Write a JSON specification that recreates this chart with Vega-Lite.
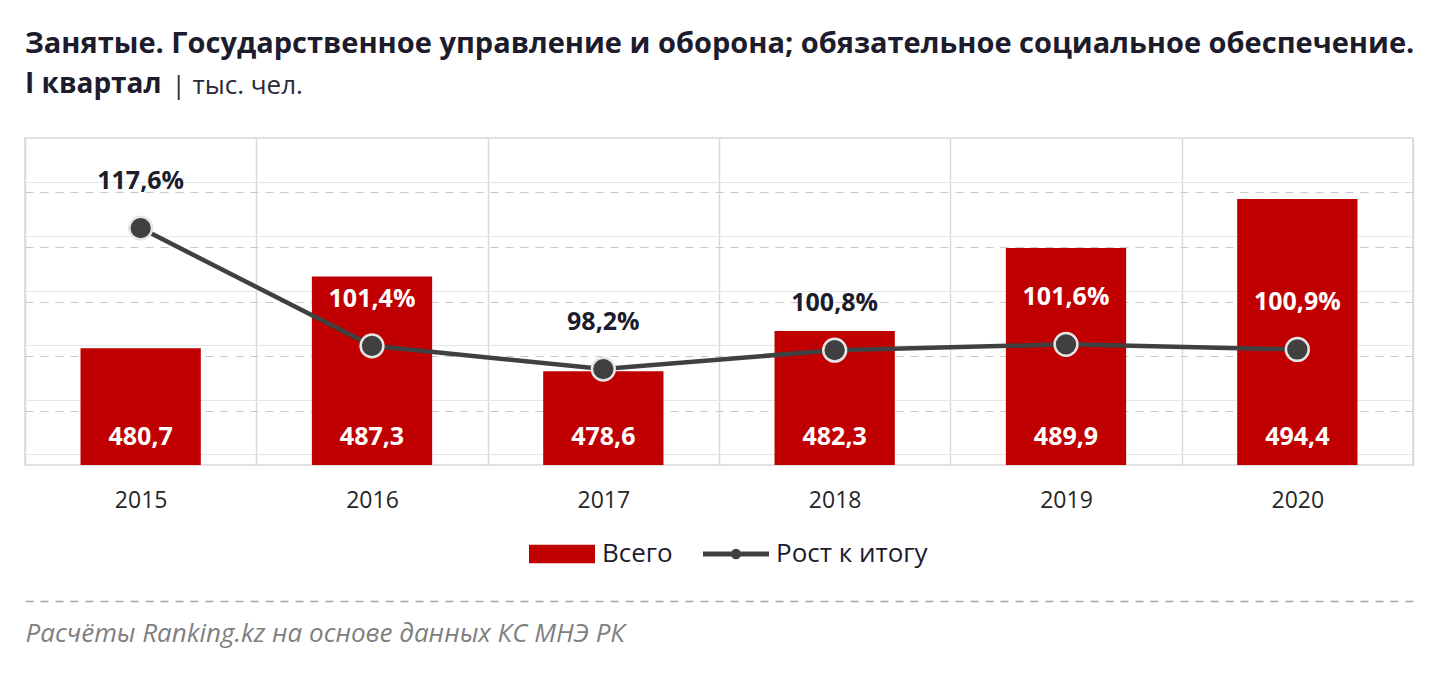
{
  "$schema": "https://vega.github.io/schema/vega-lite/v6.json",
  "width": 1388,
  "height": 327,
  "autosize": {"type": "none"},
  "padding": {"left": 25, "top": 138, "right": 25, "bottom": 209},
  "background": "white",
  "title": {
    "text": "Занятые. Государственное управление и оборона; обязательное социальное обеспечение.",
    "subtitle": "I квартал",
    "anchor": "start",
    "frame": "group",
    "font": "Open Sans",
    "fontSize": 29,
    "fontWeight": "bold",
    "color": "#1c1c2c",
    "subtitleFont": "Open Sans",
    "subtitleFontSize": 28,
    "subtitleFontWeight": "bold",
    "subtitleColor": "#1c1c2c",
    "subtitlePadding": 12,
    "offset": -27
  },
  "config": {
    "locale": {"number": {"decimal": ",", "thousands": "\u00a0", "grouping": [3], "currency": ["", ""]}},
    "view": {"stroke": "#d9d9d9", "strokeWidth": 1.5},
    "font": "Open Sans"
  },
  "data": {
    "values": [
      {"year": "2015", "total": 480.7, "growth": 117.6},
      {"year": "2016", "total": 487.3, "growth": 101.4},
      {"year": "2017", "total": 478.6, "growth": 98.2},
      {"year": "2018", "total": 482.3, "growth": 100.8},
      {"year": "2019", "total": 489.9, "growth": 101.6},
      {"year": "2020", "total": 494.4, "growth": 100.9}
    ]
  },
  "layer": [
    {
      "encoding": {
        "x": {
          "field": "year", "type": "ordinal",
          "scale": {"paddingInner": 0, "paddingOuter": 0},
          "axis": {
            "orient": "bottom", "title": null, "labelAngle": 0, "labelFontSize": 23,
            "labelColor": "#262626", "labelPadding": 24, "ticks": false, "domain": false,
            "grid": true, "tickBand": "extent", "gridColor": "#d9d9d9", "gridWidth": 1.5
          }
        }
      },
      "layer": [
        {
          "mark": {"type": "bar", "color": "#C00000", "width": {"band": 0.52}, "clip": true},
          "encoding": {
            "y": {
              "field": "total", "type": "quantitative",
              "scale": {"domain": [470, 500], "zero": false, "nice": false},
              "axis": {
                "orient": "left",
                "values": [471, 472, 473, 474, 476, 477, 478, 479, 481, 482, 483, 484, 486, 487, 488, 489, 491, 492, 493, 494, 496, 497, 498, 499],
                "grid": true, "gridColor": "#e6e6e6", "gridWidth": 1,
                "labels": false, "ticks": false, "domain": false,
                "title": "| тыс. чел.", "titleAngle": 0, "titleX": 146, "titleY": -45,
                "titleAlign": "left", "titleBaseline": "alphabetic", "titleFontSize": 26,
                "titleFontWeight": "normal", "titleColor": "#2a2a3a"
              }
            },
            "color": {
              "datum": "Всего", "type": "nominal",
              "scale": {"domain": ["Всего", "Рост к итогу"], "range": ["#C00000", "#404040"]},
              "legend": {
                "title": null, "orient": "none", "legendX": 524, "legendY": 403,
                "direction": "horizontal", "labelFontSize": 26, "labelColor": "#1c1c2c",
                "labelOffset": 27, "columnPadding": 20, "symbolSize": 4356,
                "encode": {
                  "symbols": {
                    "update": {
                      "shape": {"signal": "datum.value === 'Всего' ? 'M-1,-0.28H1V0.28H-1Z' : 'M-1,0H1M0.08,0A0.08,0.08 0 1 1 -0.08,0A0.08,0.08 0 1 1 0.08,0Z'"},
                      "size": {"value": 4356},
                      "fill": {"signal": "datum.value === 'Всего' ? '#C00000' : '#404040'"},
                      "stroke": {"signal": "datum.value === 'Всего' ? '#C00000' : '#404040'"},
                      "strokeWidth": {"signal": "datum.value === 'Всего' ? 0 : 5"},
                      "opacity": {"value": 1},
                      "fillOpacity": {"value": 1}
                    }
                  }
                }
              }
            }
          }
        },
        {
          "mark": {"type": "text", "color": "white", "fontSize": 25, "fontWeight": "bold", "baseline": "middle"},
          "encoding": {
            "y": {"datum": 472.6, "type": "quantitative"},
            "text": {"field": "total", "type": "quantitative", "format": ".1f"}
          }
        }
      ]
    },
    {
      "encoding": {
        "x": {
          "field": "year", "type": "ordinal",
          "axis": {
            "orient": "bottom", "offset": 136, "labels": false, "ticks": false, "grid": false,
            "domain": true, "domainDash": [8, 7], "domainColor": "#a6a6a6", "domainWidth": 1.5,
            "title": "Расчёты Ranking.kz на основе данных КС МНЭ РК",
            "titleX": 0, "titleY": 40, "titleAlign": "left", "titleBaseline": "alphabetic",
            "titleFontSize": 26, "titleFontStyle": "italic", "titleFontWeight": "normal",
            "titleColor": "#7f7f7f"
          }
        },
        "y": {
          "field": "growth", "type": "quantitative",
          "scale": {"domain": [85, 130], "zero": false, "nice": false},
          "axis": {
            "orient": "right", "values": [92.5, 100, 107.5, 115, 122.5],
            "grid": true, "gridDash": [8, 7], "gridColor": "#c8c8c8", "gridWidth": 1.2,
            "labels": false, "ticks": false, "domain": false, "title": null
          }
        }
      },
      "layer": [
        {
          "mark": {"type": "line", "strokeWidth": 4.5},
          "encoding": {"color": {"datum": "Рост к итогу", "type": "nominal"}}
        },
        {
          "mark": {"type": "circle", "size": 520, "fill": "#404040", "opacity": 1, "stroke": "#e6e6e6", "strokeWidth": 2.5}
        },
        {
          "mark": {"type": "text", "fontSize": 25, "fontWeight": "bold", "baseline": "middle", "dy": -47,
                   "text": {"expr": "replace(format(datum.growth, '.1f'), '.', ',') + '%'"}},
          "encoding": {
            "color": {
              "condition": {"test": "datum.year === '2016' || datum.year === '2019' || datum.year === '2020'", "value": "white"},
              "value": "#1c1c2c"
            }
          }
        }
      ]
    }
  ],
  "resolve": {
    "scale": {"y": "independent"},
    "axis": {"x": "independent", "y": "independent"}
  }
}
